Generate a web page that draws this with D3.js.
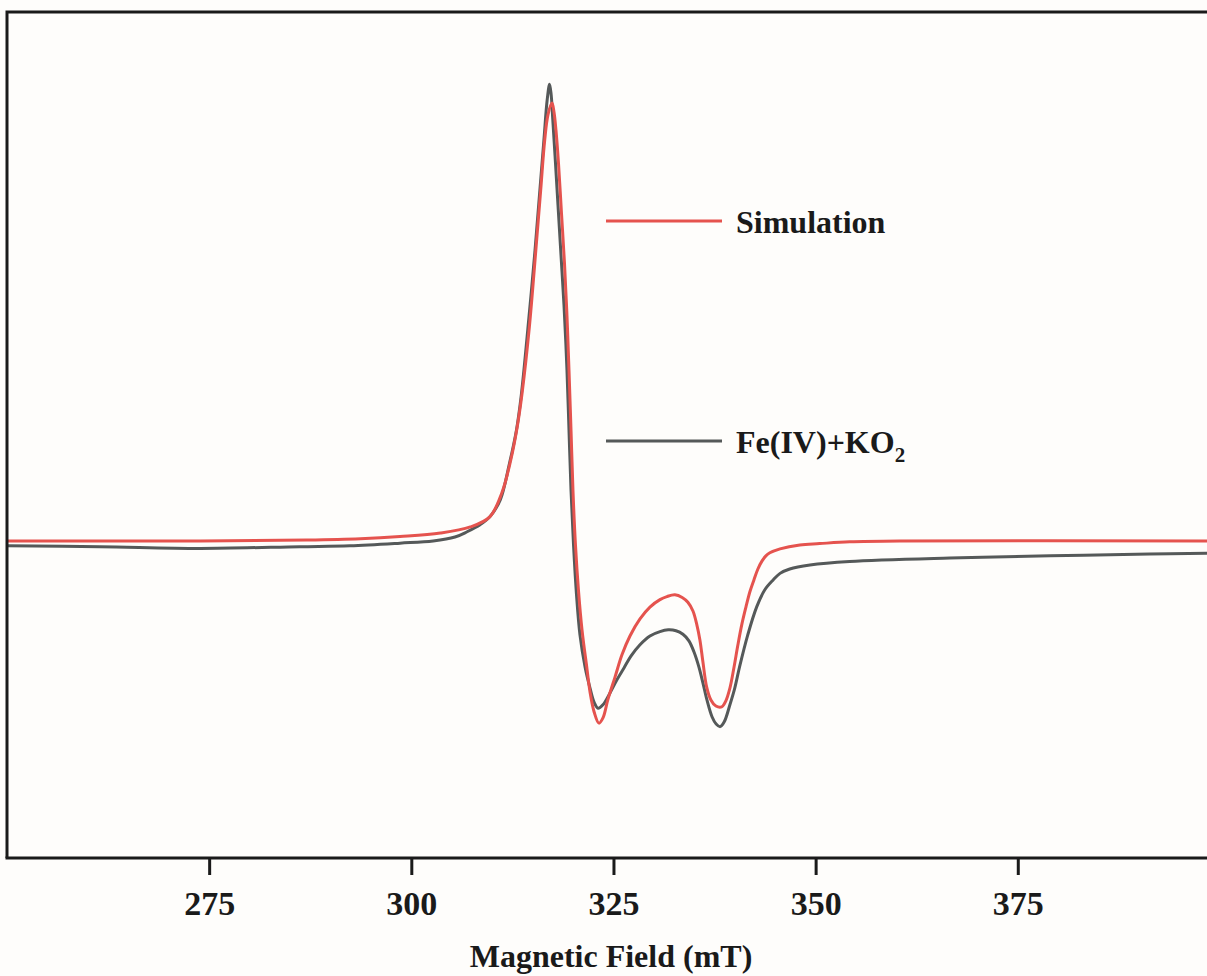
<html>
<head>
<meta charset="utf-8">
<title>EPR spectrum</title>
<style>
body { margin: 0; background: #fefdfb; }
svg { display: block; }
.frame { fill: none; stroke: #1a1a1a; stroke-width: 3px; }
.axis path, .axis line { stroke: #1a1a1a; stroke-width: 3px; }
.axis text { font-family: "Liberation Serif", "Times New Roman", serif; font-weight: bold; font-size: 34px; fill: #1a1a1a; }
.title { font-family: "Liberation Serif", "Times New Roman", serif; font-weight: bold; font-size: 32px; fill: #1a1a1a; }
.legend { font-family: "Liberation Serif", "Times New Roman", serif; font-weight: bold; font-size: 32px; fill: #1a1a1a; }
.curve { fill: none; stroke-width: 3px; stroke-linejoin: round; }
</style>
</head>
<body>
<script src="https://cdn.jsdelivr.net/npm/d3@7"></script>
<script>

// magnetic field (mT) and intensity (a.u.)
var expField = [250.0, 261.5, 273.9, 286.2, 292.4, 298.6, 302.7, 305.4, 306.9, 308.5, 309.7, 311.0, 312.1, 313.0, 313.6, 314.4, 315.3, 315.9, 316.4, 316.8, 317.1, 317.3, 317.5, 317.77, 318.14, 318.51, 318.88, 319.25, 319.5, 319.75, 320.06, 320.43, 320.86, 321.48, 322.1, 322.6, 323.1, 323.7, 324.57, 325.43, 326.3, 327.16, 328.28, 329.51, 330.75, 331.77, 332.73, 333.59, 334.33, 334.95, 335.57, 336.06, 336.56, 337.2, 337.7, 338.2, 338.7, 339.4, 340.0, 340.6, 341.6, 342.7, 343.7, 344.75, 345.6, 346.8, 349.3, 354.2, 366.6, 379.0, 391.3, 398.4];
var expInt = [-1.1, -1.3, -1.7, -1.3, -1.1, -0.5, 0.0, 0.9, 2.1, 3.7, 5.5, 9.4, 17.4, 25.3, 33.3, 48.2, 66.4, 80.1, 91.6, 100.7, 104.3, 101.8, 96.1, 88.1, 76.7, 65.3, 53.9, 39.0, 25.3, 11.6, -0.9, -12.3, -21.5, -28.7, -33.6, -36.8, -38.2, -37.4, -34.7, -31.7, -29.0, -26.3, -23.7, -21.7, -20.7, -20.3, -20.5, -21.3, -22.8, -25.3, -28.8, -32.4, -36.3, -40.2, -41.8, -42.4, -41.3, -37.4, -33.6, -28.7, -21.5, -15.1, -11.2, -8.9, -7.4, -6.4, -5.5, -4.7, -3.9, -3.4, -3.0, -2.8];

var simField = [250.0, 273.9, 287.1, 293.7, 298.6, 303.6, 307.3, 309.7, 311.2, 312.3, 313.1, 313.7, 314.6, 315.4, 316.0, 316.5, 316.9, 317.4, 317.65, 317.89, 318.2, 318.57, 318.94, 319.25, 319.5, 319.75, 319.99, 320.3, 320.67, 321.11, 321.69, 322.1, 322.6, 323.2, 323.7, 324.3, 325.19, 326.05, 327.04, 328.28, 329.51, 330.75, 331.61, 332.6, 333.5, 334.2, 334.83, 335.32, 335.69, 336.06, 336.52, 337.05, 337.67, 338.37, 338.9, 339.4, 339.89, 340.39, 340.88, 341.38, 341.87, 342.37, 342.86, 343.36, 343.85, 344.34, 345.6, 348.05, 350.5, 354.2, 360.4, 398.4];
var simInt = [0.0, 0.0, 0.2, 0.5, 1.0, 1.8, 3.2, 5.5, 11.0, 18.5, 26.1, 33.8, 48.9, 66.4, 80.1, 91.6, 97.3, 100.0, 97.9, 93.8, 86.3, 74.9, 63.5, 51.4, 39.0, 25.3, 11.6, -0.9, -11.2, -20.3, -28.7, -34.5, -39.0, -41.6, -40.4, -36.3, -31.1, -26.0, -21.7, -17.8, -15.1, -13.4, -12.7, -12.3, -12.9, -14.0, -16.0, -19.2, -22.6, -27.6, -33.3, -36.3, -37.7, -37.9, -36.5, -33.6, -29.0, -23.7, -19.0, -15.1, -11.6, -8.9, -6.4, -4.6, -3.4, -2.7, -1.8, -0.9, -0.6, -0.2, 0.0, 0.0];

var xTicks = [275, 300, 325, 350, 375];

var width = 1207;
var height = 976;
var plot = {left: 7, right: 1207, top: 12, bottom: 858};

var svg = d3.select("body").append("svg")
			.attr("width", width)
			.attr("height", height);

var x = d3.scaleLinear().domain([250, 398.4]).range([plot.left, plot.right]);
var y = d3.scaleLinear().domain([-72.4, 120.8]).range([plot.bottom, plot.top]);

svg.append("clipPath").attr("id", "clip")
	.append("rect")
	.attr("x", plot.left)
	.attr("y", plot.top)
	.attr("width", plot.right - plot.left)
	.attr("height", plot.bottom - plot.top);

var line = d3.line()
			.x(function(d){ return x(d[0]); })
			.y(function(d){ return y(d[1]); })
			.curve(d3.curveCatmullRom.alpha(0.5));

var expData = d3.zip(expField, expInt);
var simData = d3.zip(simField, simInt);

svg.append("path")
	.datum(expData)
	.attr("class", "curve")
	.attr("clip-path", "url(#clip)")
	.attr("stroke", "#555959")
	.attr("d", line);

svg.append("path")
	.datum(simData)
	.attr("class", "curve")
	.attr("clip-path", "url(#clip)")
	.attr("stroke", "#e5534e")
	.attr("d", line);

// frame: top and left edges (right edge is cut off)
svg.append("path")
	.attr("class", "frame")
	.attr("d", "M" + (plot.right + 10) + "," + plot.top + "H" + plot.left + "V" + plot.bottom);

var xAxis = d3.axisBottom(x)
			.tickValues(xTicks)
			.tickSize(17)
			.tickSizeOuter(0)
			.tickFormat(d3.format("d"));

var gx = svg.append("g")
	.attr("class", "axis")
	.attr("transform", "translate(0," + plot.bottom + ")")
	.call(xAxis);

gx.select(".domain").attr("d", "M" + (plot.left - 1.5) + ",0H" + (plot.right + 10));
gx.selectAll("text").attr("y", 57).attr("dy", null);

svg.append("text")
	.attr("class", "title")
	.attr("x", 611)
	.attr("y", 967)
	.attr("text-anchor", "middle")
	.text("Magnetic Field (mT)");

// legend
var legendItems = [
	{label: "Simulation", color: "#e5534e", y: 221},
	{label: "Fe(IV)+KO", sub: "2", color: "#555959", y: 441}
];

var lg = svg.selectAll(".leg").data(legendItems).enter().append("g").attr("class", "leg");

lg.append("line")
	.attr("x1", 606)
	.attr("x2", 722)
	.attr("y1", function(d){ return d.y; })
	.attr("y2", function(d){ return d.y; })
	.attr("stroke", function(d){ return d.color; })
	.attr("stroke-width", 3);

var lt = lg.append("text")
	.attr("class", "legend")
	.attr("x", 736)
	.attr("y", function(d){ return d.y + 12; });

lt.append("tspan").text(function(d){ return d.label; });
lt.filter(function(d){ return d.sub; })
	.append("tspan")
	.attr("dy", 9)
	.attr("font-size", "21px")
	.text(function(d){ return d.sub; });

</script>
</body>
</html>
